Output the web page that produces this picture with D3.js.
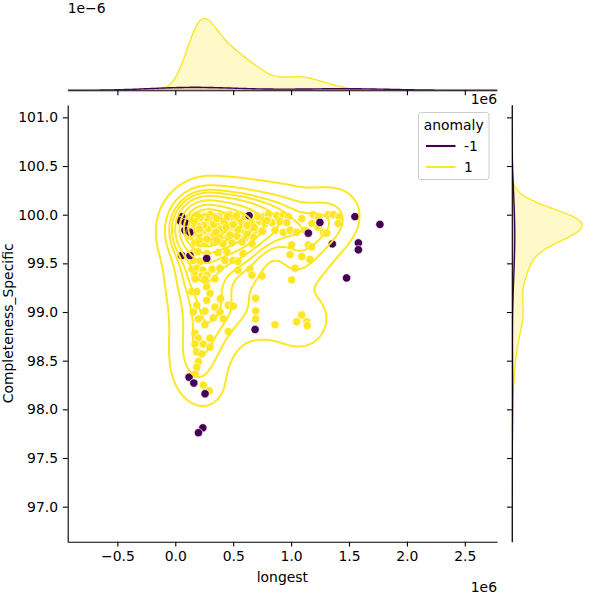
<!DOCTYPE html>
<html>
<head>
<meta charset="utf-8">
<script src="https://cdn.jsdelivr.net/npm/d3@7"></script>
<style>
  body { margin: 0; background: #fff; }
  text { font-family: "DejaVu Sans", sans-serif; fill: #000; }
</style>
</head>
<body>
<div id="chart"></div>
<script>
// anomaly vs longest / Completeness_Specific (jointplot)

// anomaly = 1 : [longest, Completeness_Specific]
var normalPts = [
  [185000,100],[256000,99.99],[300000,100],[343000,99.98],[386000,100],[429000,99.99],[472000,100],[516000,99.98],
  [559000,100],[703000,99.99],[760000,99.98],[803000,100],[876000,99.99],[933000,100],[976000,99.98],
  [127000,99.92],[196000,99.93],[239000,99.91],[282000,99.92],[343000,99.93],[386000,99.91],[455000,99.92],[498000,99.93],
  [541000,99.92],[602000,99.91],[662000,99.92],[731000,99.93],[775000,99.91],[835000,99.92],[904000,99.93],[962000,99.92],
  [170000,99.84],[231000,99.85],[282000,99.83],[343000,99.84],[403000,99.85],[455000,99.84],[533000,99.83],[585000,99.84],
  [628000,99.85],[688000,99.84],[757000,99.83],[861000,99.84],[933000,99.82],[991000,99.84],[1048000,99.82],
  [144000,99.77],[187000,99.76],[239000,99.78],[317000,99.77],[386000,99.76],[455000,99.77],[533000,99.78],[602000,99.76],[671000,99.77],
  [170000,99.71],[213000,99.7],[256000,99.71],[326000,99.72],[412000,99.7],[490000,99.71],[576000,99.72],[662000,99.7],
  [1092000,99.96],[1192000,100],[1235000,99.98],[1321000,100],[1364000,100],[1414000,99.98],[1408000,99.91],[1178000,99.91],
  [1235000,99.87],[1278000,99.82],[1307000,99.81],[1120000,99.84],
  [153000,99.61],[196000,99.62],[274000,99.6],[369000,99.61],[446000,99.62],[585000,99.6],
  [153000,99.53],[213000,99.52],[282000,99.54],[429000,99.53],[498000,99.53],[541000,99.52],
  [144000,99.44],[187000,99.45],[239000,99.43],[317000,99.44],[386000,99.45],[541000,99.43],[645000,99.44],
  [170000,99.38],[231000,99.37],[274000,99.38],[662000,99.38],[749000,99.37],
  [1005000,99.69],[1149000,99.69],[1178000,99.67],[991000,99.59],[1092000,99.57],[1163000,99.54],[1034000,99.45],[1005000,99.33],
  [170000,99.34],[256000,99.34],[343000,99.34],[142000,99.21],[185000,99.21],[271000,99.26],[300000,99.19],[386000,99.13],
  [271000,99.12],[185000,99.07],[343000,99.05],[458000,99.07],[501000,99.06],[155000,99.0],[256000,99.01],[386000,99.0],
  [199000,98.93],[328000,98.94],[415000,98.93],[256000,98.87],[170000,98.78],[300000,98.73],[199000,98.73],[170000,98.67],
  [242000,98.67],[300000,98.64],[185000,98.59],[228000,98.57],[199000,98.49],[458000,98.8],[694000,99.14],[694000,99.01],
  [694000,98.93],[392000,99.14],[185000,98.43],[170000,98.36],[242000,98.25],[294000,98.19],
  [861000,98.87],[1048000,98.9],[1092000,98.97],[1135000,98.9],[1140000,98.86],
  [110000,99.96],[144000,99.98],[161000,99.88],[205000,99.95],[222000,99.81],[248000,99.9],[265000,99.98],[291000,99.87],
  [317000,99.95],[334000,99.8],[360000,99.9],[377000,99.98],[412000,99.87],[438000,99.96],[472000,99.79],[490000,99.93],
  [524000,99.86],[559000,99.98],[585000,99.9],[619000,99.8],[645000,99.95],[680000,99.87],[714000,99.98],[749000,99.83],
  [792000,99.94],[205000,99.74],[274000,99.75],[360000,99.73],[127000,99.78],[92000,99.86],
  [150000,99.95],[165000,99.9],[175000,99.97],[190000,99.86],[200000,99.93],[210000,99.99],[220000,99.88],[230000,99.96],
  [240000,99.83],[250000,99.94],[260000,99.9],[270000,99.97],[285000,99.86],[160000,99.81],[205000,99.8],[215000,99.91],
  [225000,99.98],[195000,99.97],[180000,99.92],[245000,99.89],
  [330000,99.9],[360000,99.96],[390000,99.85],[420000,99.93],[450000,99.98],[480000,99.88],[510000,99.95],[540000,99.85],
  [570000,99.93],[600000,99.98],[350000,99.82],[440000,99.87],[500000,99.9],[530000,99.99],[620000,99.89],
  [172000,99.99],[186000,99.94],[201000,99.88],[214000,99.97],[178000,99.83],[192000,99.99],[208000,99.85],[163000,99.93]
];

// anomaly = -1
var anomalyPts = [
  [55000,99.98],[40000,99.94],[84000,99.92],[84000,99.84],[127000,99.82],[55000,99.58],[127000,99.58],[271000,99.55],
  [637000,99.99],[1249000,99.92],[1149000,99.81],[1551000,99.98],[1767000,99.9],[1356000,99.7],[1581000,99.71],
  [1581000,99.64],[1479000,99.35],[689000,98.82],[119000,98.33],[160000,98.27],[257000,98.16],[238000,97.81],[200000,97.76]
];

var hueLabels = ["-1", "1"];
var hueColors = ["#440154", "#fde725"];
var xTicks = [-500000, 0, 500000, 1000000, 1500000, 2000000, 2500000];
var yTicks = [97, 97.5, 98, 98.5, 99, 99.5, 100, 100.5, 101];
var xDomain = [-929000, 2778000];
var yDomain = [96.64, 101.127];

// layout (gridspec 6x6, space .2)
var W = 600, H = 600;
var main = { left: 67.7, right: 497, top: 105, bottom: 541.7 };
var margTop = { top: 15, bottom: 90.3 };
var margRight = { left: 511.8, right: 585.8 };
var fontSize = 13.9, tickLen = 4.86, tickPad = 4.86;

var svg = d3.select("#chart").append("svg")
  .attr("width", W).attr("height", H);

var x = d3.scaleLinear().domain(xDomain).range([main.left, main.right]);
var y = d3.scaleLinear().domain(yDomain).range([main.bottom, main.top]);

var defs = svg.append("defs");
defs.append("clipPath").attr("id", "clipMain")
  .append("rect").attr("x", main.left).attr("y", main.top)
  .attr("width", main.right - main.left).attr("height", main.bottom - main.top);
defs.append("clipPath").attr("id", "clipTop")
  .append("rect").attr("x", main.left).attr("y", margTop.top - 5)
  .attr("width", main.right - main.left).attr("height", margTop.bottom - margTop.top + 5);
defs.append("clipPath").attr("id", "clipRight")
  .append("rect").attr("x", margRight.left).attr("y", main.top)
  .attr("width", margRight.right - margRight.left + 5).attr("height", main.bottom - main.top);

var groups = [anomalyPts, normalPts];
var total = anomalyPts.length + normalPts.length;

// ---- 1d kde (scott) ----
function kde1d(vals, weight) {
  var n = vals.length;
  var bw = d3.deviation(vals) * Math.pow(n, -0.2);
  var lo = d3.min(vals) - 3 * bw, hi = d3.max(vals) + 3 * bw;
  var grid = d3.range(200).map(i => lo + (hi - lo) * i / 199);
  var c = weight / (n * bw * Math.sqrt(2 * Math.PI));
  return grid.map(g => {
    var s = 0;
    vals.forEach(v => { var z = (g - v) / bw; s += Math.exp(-0.5 * z * z); });
    return [g, s * c];
  });
}

// ---- 2d kde (scott, full covariance) ----
function kde2d(pts, weight) {
  var n = pts.length, G = 200, f = Math.pow(n, -1 / 6);
  var mx = d3.mean(pts, d => d[0]), my = d3.mean(pts, d => d[1]);
  var sxx = 0, syy = 0, sxy = 0;
  pts.forEach(p => { var a = p[0] - mx, b = p[1] - my; sxx += a * a; syy += b * b; sxy += a * b; });
  sxx = sxx / (n - 1) * f * f; syy = syy / (n - 1) * f * f; sxy = sxy / (n - 1) * f * f;
  var det = sxx * syy - sxy * sxy;
  var ixx = syy / det, iyy = sxx / det, ixy = -sxy / det;
  var bx = Math.sqrt(sxx), by = Math.sqrt(syy);
  var x0 = d3.min(pts, d => d[0]) - 3 * bx, x1 = d3.max(pts, d => d[0]) + 3 * bx;
  var y0 = d3.min(pts, d => d[1]) - 3 * by, y1 = d3.max(pts, d => d[1]) + 3 * by;
  var dx = (x1 - x0) / (G - 1), dy = (y1 - y0) / (G - 1);
  var c = weight / (n * 2 * Math.PI * Math.sqrt(det));
  var values = new Float64Array(G * G);
  for (var j = 0; j < G; j++) {
    var gy = y0 + j * dy;
    for (var i = 0; i < G; i++) {
      var gx = x0 + i * dx, s = 0;
      for (var k = 0; k < n; k++) {
        var a = gx - pts[k][0], b = gy - pts[k][1];
        s += Math.exp(-0.5 * (a * a * ixx + 2 * a * b * ixy + b * b * iyy));
      }
      values[j * G + i] = s * c;
    }
  }
  return { values: values, G: G, x0: x0, y0: y0, dx: dx, dy: dy };
}

var dens2 = groups.map(g => kde2d(g, g.length / total));

// iso-proportion levels (levels=10, thresh=.05), common over hues
var allVals = [];
dens2.forEach(d => d.values.forEach(v => allVals.push(v)));
var sorted = allVals.slice().sort((a, b) => b - a);
var sum = d3.sum(sorted), cum = 0;
var normCum = sorted.map(v => (cum += v) / sum);
var props = d3.range(10).map(i => 0.05 + 0.95 * i / 9);
var levels = props.map(p => {
  var idx = d3.bisectLeft(normCum, 1 - p);
  return sorted[Math.min(idx, sorted.length - 1)];
}).filter(l => l < sorted[0]);

// ---- main scatter ----
var gMain = svg.append("g");
gMain.append("g").attr("clip-path", "url(#clipMain)")
  .selectAll("circle.n").data(normalPts).enter().append("circle")
  .attr("cx", d => x(d[0])).attr("cy", d => y(d[1])).attr("r", 4.17)
  .attr("fill", hueColors[1]).attr("stroke", "#fff").attr("stroke-width", 0.67);
gMain.append("g").attr("clip-path", "url(#clipMain)")
  .selectAll("circle.a").data(anomalyPts).enter().append("circle")
  .attr("cx", d => x(d[0])).attr("cy", d => y(d[1])).attr("r", 4.17)
  .attr("fill", hueColors[0]).attr("stroke", "#fff").attr("stroke-width", 0.67);

// contours (only the anomaly = 1 density reaches the levels in the reference)
var dN = dens2[1];
var cs = d3.contours().size([dN.G, dN.G]).thresholds(levels)(Array.from(dN.values));
var proj = d3.geoTransform({
  point: function(px, py) {
    this.stream.point(x(dN.x0 + (px - 0.5) * dN.dx), y(dN.y0 + (py - 0.5) * dN.dy));
  }
});
gMain.append("g").attr("clip-path", "url(#clipMain)")
  .selectAll("path").data(cs.filter(c => c.coordinates.length)).enter().append("path")
  .attr("d", d3.geoPath(proj)).attr("fill", "none")
  .attr("stroke", hueColors[1]).attr("stroke-width", 2);

// axes
function styleAxis(g) {
  g.selectAll("path").attr("stroke", "#000").attr("stroke-width", 1.1);
  g.selectAll("line").attr("stroke", "#000").attr("stroke-width", 1.1);
  g.selectAll("text").style("font-family", "DejaVu Sans").style("font-size", fontSize + "px").attr("fill", "#000");
}
var fmt = v => (v < 0 ? "\u2212" : "") + Math.abs(v / 1e6).toFixed(1);
svg.append("g").attr("transform", `translate(0,${main.bottom})`)
  .call(d3.axisBottom(x).tickValues(xTicks).tickFormat(fmt).tickSize(tickLen).tickSizeOuter(0).tickPadding(tickPad))
  .call(styleAxis);
svg.append("g").attr("transform", `translate(${main.left},0)`)
  .call(d3.axisLeft(y).tickValues(yTicks).tickFormat(d3.format(".1f")).tickSize(tickLen).tickSizeOuter(0).tickPadding(tickPad))
  .call(styleAxis);

svg.append("text").attr("x", (main.left + main.right) / 2).attr("y", 582)
  .attr("text-anchor", "middle").style("font-size", fontSize + "px").text("longest");
svg.append("text").attr("transform", `translate(12.5,${(main.top + main.bottom) / 2}) rotate(-90)`)
  .attr("text-anchor", "middle").style("font-size", fontSize + "px").text("Completeness_Specific");
svg.append("text").attr("x", main.right).attr("y", 592)
  .attr("text-anchor", "end").style("font-size", fontSize + "px").text("1e6");

// ---- top marginal ----
var dens1x = groups.map(g => kde1d(g.map(d => d[0]), g.length / total));
var maxX = d3.max(dens1x, d => d3.max(d, e => e[1]));
var yTop = d3.scaleLinear().domain([0, maxX * 1.05]).range([margTop.bottom, margTop.top]);
var gTop = svg.append("g").attr("clip-path", "url(#clipTop)");
[1, 0].forEach(hi => {
  var data = dens1x[hi];
  gTop.append("path").datum(data)
    .attr("d", d3.area().x(d => x(d[0])).y0(yTop(0)).y1(d => yTop(d[1])))
    .attr("fill", hueColors[hi]).attr("fill-opacity", 0.25);
  gTop.append("path").datum(data)
    .attr("d", d3.line().x(d => x(d[0])).y(d => yTop(d[1])))
    .attr("fill", "none").attr("stroke", hueColors[hi]).attr("stroke-width", 1.4);
});
svg.append("g").attr("transform", `translate(0,${margTop.bottom})`)
  .call(d3.axisBottom(x).tickValues(xTicks).tickFormat("").tickSize(tickLen).tickSizeOuter(0))
  .call(styleAxis);
svg.append("text").attr("x", main.left).attr("y", 13)
  .style("font-size", fontSize + "px").text("1e\u22126");
svg.append("text").attr("x", main.right).attr("y", 104)
  .attr("text-anchor", "end").style("font-size", fontSize + "px").text("1e6");

// ---- right marginal ----
var dens1y = groups.map(g => kde1d(g.map(d => d[1]), g.length / total));
var maxY = d3.max(dens1y, d => d3.max(d, e => e[1]));
var xRight = d3.scaleLinear().domain([0, maxY * 1.05]).range([margRight.left, margRight.right]);
var gRight = svg.append("g").attr("clip-path", "url(#clipRight)");
[1, 0].forEach(hi => {
  var data = dens1y[hi];
  gRight.append("path").datum(data)
    .attr("d", d3.area().y(d => y(d[0])).x0(xRight(0)).x1(d => xRight(d[1])))
    .attr("fill", hueColors[hi]).attr("fill-opacity", 0.25);
  gRight.append("path").datum(data)
    .attr("d", d3.line().y(d => y(d[0])).x(d => xRight(d[1])))
    .attr("fill", "none").attr("stroke", hueColors[hi]).attr("stroke-width", 1.4);
});
svg.append("g").attr("transform", `translate(${margRight.left},0)`)
  .call(d3.axisLeft(y).tickValues(yTicks).tickFormat("").tickSize(tickLen).tickSizeOuter(0))
  .call(styleAxis);

// ---- legend ----
var leg = svg.append("g").attr("transform", "translate(418.5,112.5)");
leg.append("rect").attr("width", 70.5).attr("height", 67).attr("rx", 2.5)
  .attr("fill", "#fff").attr("fill-opacity", 0.8).attr("stroke", "#cccccc").attr("stroke-width", 1);
leg.append("text").attr("x", 35.2).attr("y", 17.5).attr("text-anchor", "middle")
  .style("font-size", fontSize + "px").text("anomaly");
hueLabels.forEach((lab, i) => {
  var ly = 33.5 + i * 21;
  leg.append("line").attr("x1", 7.5).attr("x2", 37).attr("y1", ly).attr("y2", ly)
    .attr("stroke", hueColors[i]).attr("stroke-width", 2.08);
  leg.append("text").attr("x", 45.5).attr("y", ly + 5)
    .style("font-size", fontSize + "px").text(lab);
});
</script>
</body>
</html>
